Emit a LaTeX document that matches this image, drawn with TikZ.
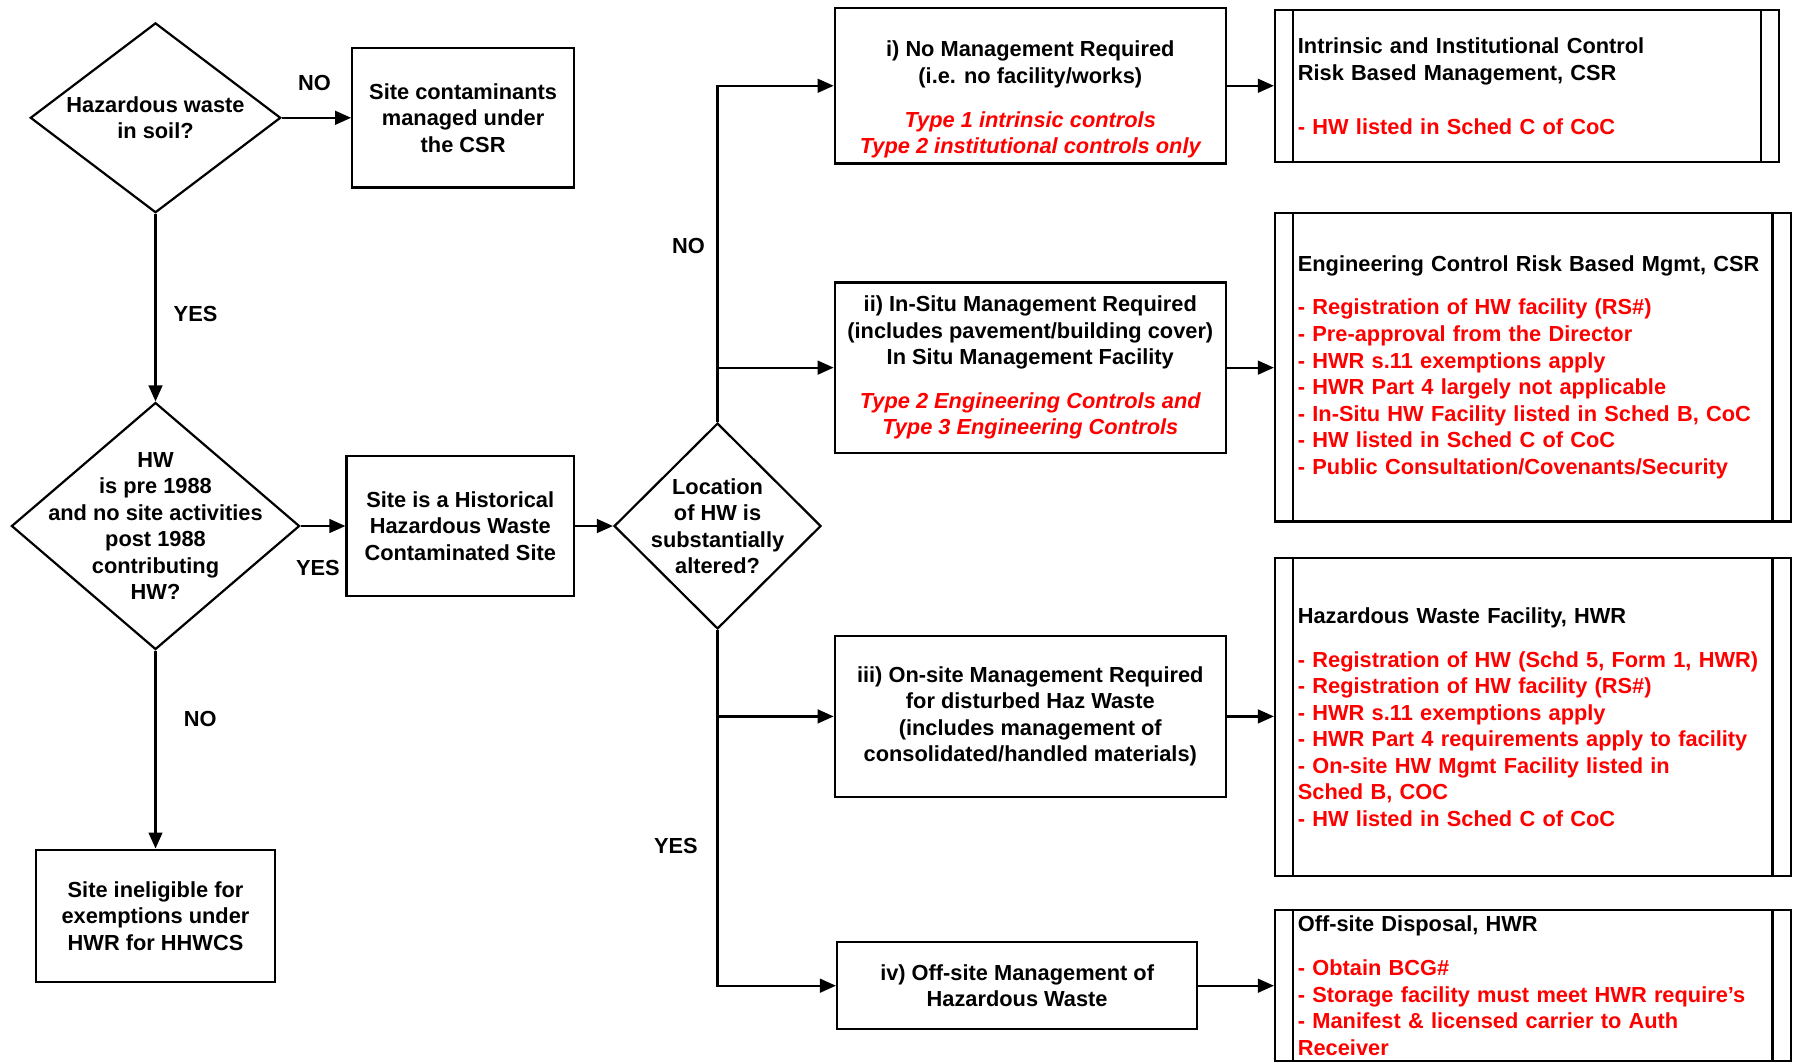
\documentclass[tikz,border=0pt]{standalone}
\usepackage{xcolor}
\usepackage{fontspec}
\setmainfont{Liberation Sans}
\usepackage{tikz}
\usetikzlibrary{calc,shapes,arrows.meta}

\begin{document}
\begin{tikzpicture}[x=0.2mm, y=-0.2mm,
    every node/.style={font=\fontsize{10.85}{13.2}\selectfont\bfseries},
    box/.style={draw, line width=1.1pt, align=center, inner sep=0pt},
    decision/.style={diamond, draw, line width=1.1pt, inner sep=0pt},
    rulebox/.style={draw, line width=1.1pt, align=left, inner xsep=4mm, inner ysep=0pt,
      path picture={
        \draw[line width=1.1pt] ([xshift=3.2mm]path picture bounding box.north west) -- ([xshift=3.2mm]path picture bounding box.south west);
        \draw[line width=1.1pt] ([xshift=-3.2mm]path picture bounding box.north east) -- ([xshift=-3.2mm]path picture bounding box.south east);
      }},
    arr/.style={line width=1.1pt, -{Triangle[length=2.8mm, width=2.4mm]}}
    ]
    \useasboundingbox (0,0) rectangle (1568,930);

    \node[decision, minimum width=43.8mm, minimum height=33.2mm] (soil) at (136,103) {};
    \node[align=center] (soiltxt) at (soil) {Hazardous waste\\in soil?};
    \node[box, minimum width=38.8mm, minimum height=24.4mm] (csr) at (405,103) {Site contaminants\\managed under\\the CSR};
    \node[decision, minimum width=50.4mm, minimum height=43.2mm] (pre) at (136,460) {};
    \node[align=center] (pretxt) at (pre) {HW\\is pre 1988\\and no site activities\\post 1988\\contributing\\HW?};
    \node[box, minimum width=39.8mm, minimum height=24.6mm] (hist) at (402.5,460) {Site is a Historical\\Hazardous Waste\\Contaminated Site};
    \node[box, minimum width=41.8mm, minimum height=23.2mm] (inelig) at (136,801) {Site ineligible for\\exemptions under\\HWR for HHWCS};
    \node[decision, minimum width=36.2mm, minimum height=36mm] (loc) at (627.5,460) {};
    \node[align=center] (loctxt) at (loc) {Location\\of HW is\\substantially\\altered?};

    \node[box, minimum width=68.4mm, minimum height=27.2mm] (none) at (901,75) {\rule{0pt}{7.6mm}i) No Management Required\\(i.e. no facility/works)\\[3mm]\textcolor{red}{\itshape Type 1 intrinsic controls}\\\textcolor{red}{\itshape Type 2 institutional controls only}};
    \node[box, minimum width=68.4mm, minimum height=29.8mm] (insitu) at (901,321.5) {ii) In-Situ Management Required\\(includes pavement/building cover)\\In Situ Management Facility\\[3mm]\textcolor{red}{\itshape Type 2 Engineering Controls and}\\\textcolor{red}{\itshape Type 3 Engineering Controls}};
    \node[box, minimum width=68.4mm, minimum height=28.2mm] (onsite) at (901,626.5) {iii) On-site Management Required\\for disturbed Haz Waste\\(includes management of\\consolidated/handled materials)};
    \node[box, minimum width=63mm, minimum height=15.2mm] (offsite) at (889.5,862) {iv) Off-site Management of\\Hazardous Waste};

    \node[rulebox, minimum width=88.2mm, text width=80.2mm, minimum height=26.6mm] (r1) at (1335.5,75.5) {Intrinsic and Institutional Control\\Risk Based Management, CSR\\[4.8mm]\color{red}- HW listed in Sched C of CoC};
    \node[rulebox, minimum width=90.2mm, text width=82.2mm, minimum height=54mm] (r2) at (1340.5,321) {Engineering Control Risk Based Mgmt, CSR\\[3mm]\color{red}- Registration of HW facility (RS\#)\\- Pre-approval from the Director\\- HWR s.11 exemptions apply\\- HWR Part 4 largely not applicable\\- In-Situ HW Facility listed in Sched B, CoC\\- HW listed in Sched C of CoC\\- Public Consultation/Covenants/Security};
    \node[rulebox, minimum width=90.2mm, text width=82.2mm, minimum height=55.6mm] (r3) at (1340.5,627) {Hazardous Waste Facility, HWR\\[3mm]\color{red}- Registration of HW (Schd 5, Form 1, HWR)\\- Registration of HW facility (RS\#)\\- HWR s.11 exemptions apply\\- HWR Part 4 requirements apply to facility\\- On-site HW Mgmt Facility listed in\\Sched B, COC\\- HW listed in Sched C of CoC};
    \node[rulebox, minimum width=90.2mm, text width=82.2mm, minimum height=26.4mm] (r4) at (1340.5,862) {Off-site Disposal, HWR\\[3mm]\color{red}- Obtain BCG\#\\- Storage facility must meet HWR require’s\\- Manifest \& licensed carrier to Auth\\Receiver};

    \node (no1) at (275,73) {NO};
    \node (yes1) at (171,275) {YES};
    \node (yes2) at (278,497) {YES};
    \node (no2) at (175,629) {NO};
    \node (no3) at (602,215) {NO};
    \node (yes3) at (591,740) {YES};

    \draw[arr] (soil.east) -- (csr.west);
    \draw[arr] (soil.south) -- (pre.north);
    \draw[arr] (pre.east) -- (hist.west);
    \draw[arr] (pre.south) -- (inelig.north);
    \draw[arr] (hist.east) -- (loc.west);
    \draw[arr] (loc.north) |- (none.west);
    \draw[arr] (loc.north |- insitu.west) -- (insitu.west);
    \draw[arr] (loc.south) |- (offsite.west);
    \draw[arr] (loc.south |- onsite.west) -- (onsite.west);
    \draw[arr] (none.east) -- (none.east -| r1.west);
    \draw[arr] (insitu.east) -- (insitu.east -| r2.west);
    \draw[arr] (onsite.east) -- (onsite.east -| r3.west);
    \draw[arr] (offsite.east) -- (offsite.east -| r4.west);
  \end{tikzpicture}
\end{document}
